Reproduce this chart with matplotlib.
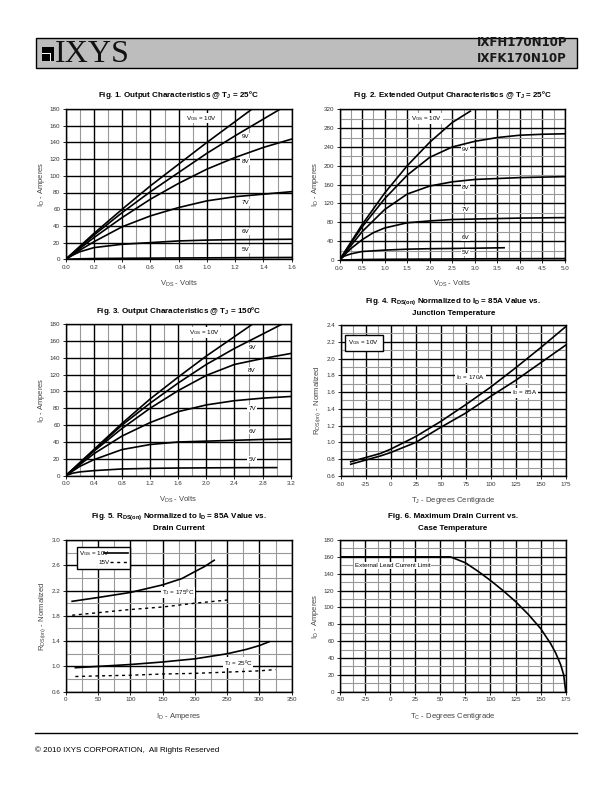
import matplotlib
matplotlib.use('Agg')
import matplotlib.pyplot as plt
from matplotlib import font_manager
from matplotlib.patches import Rectangle
from matplotlib.ticker import MultipleLocator, FixedLocator, FormatStrFormatter

names = {f.name for f in font_manager.fontManager.ttflist}
narrow = 'Liberation Sans Narrow' if 'Liberation Sans Narrow' in names else 'Liberation Sans'
tsize = 6.6 if narrow == 'Liberation Sans Narrow' else 5.8
plt.rcParams['font.family'] = ['Liberation Sans', 'DejaVu Sans']

# ---- data ----
# Fig 1: output characteristics @ 25C
f1_10v_x = [0, 0.2, 0.4, 0.6, 0.8, 1.0, 1.2, 1.32]
f1_10v_y = [0, 31, 60, 88, 114, 140, 165, 180]
f1_9v_x = [0, 0.2, 0.4, 0.6, 0.8, 1.0, 1.2, 1.4, 1.52]
f1_9v_y = [0, 29, 56, 81, 104, 127, 148, 168, 180]
f1_8v_x = [0, 0.2, 0.4, 0.6, 0.8, 1.0, 1.2, 1.4, 1.6]
f1_8v_y = [0, 26, 50, 72, 91, 108, 122, 134, 144]
f1_7v_x = [0, 0.1, 0.2, 0.4, 0.6, 0.8, 1.0, 1.2, 1.4, 1.6]
f1_7v_y = [0, 11, 21, 39, 52, 62, 70, 75, 78, 81]
f1_6v_x = [0, 0.05, 0.1, 0.2, 0.3, 0.4, 0.6, 0.8, 1.0, 1.2, 1.6]
f1_6v_y = [0, 5, 9, 14, 16, 18, 20, 22, 23, 23.5, 24]
f1_5v_x = [0, 0.1, 0.2, 0.4, 0.8, 1.2, 1.6]
f1_5v_y = [0, 0.6, 0.9, 1.2, 1.6, 1.9, 2.2]

# Fig 2: extended output characteristics @ 25C
f2_10v_x = [0, 0.5, 1.0, 1.5, 2.0, 2.5, 2.9]
f2_10v_y = [0, 75, 142, 200, 250, 292, 316]
f2_x = [0, 0.5, 1.0, 1.5, 2.0, 2.5, 3.0, 3.5, 4.0, 4.5, 5.0]
f2_9v_y = [0, 70, 130, 180, 218, 240, 252, 260, 265, 267, 268]
f2_8v_y = [0, 60, 107, 140, 157, 166, 171, 173, 175, 176, 177]
f2_7v_x = [0, 0.25, 0.5, 0.75, 1.0, 1.5, 2.0, 2.5, 3.0, 4.0, 5.0]
f2_7v_y = [0, 24, 43, 58, 68, 79, 83, 86, 87, 89, 90]
f2_6v_x = [0, 0.1, 0.25, 0.5, 1.0, 1.5, 2.0, 3.0, 3.65]
f2_6v_y = [0, 8, 13, 18, 21, 23, 24, 25, 26]
f2_5v_x = [0, 0.5, 1.0, 2.0, 3.0, 4.0, 5.0]
f2_5v_y = [0, 1, 1.5, 2, 2.5, 2.8, 3]

# Fig 3: output characteristics @ 150C
f3_10v_x = [0, 0.4, 0.8, 1.2, 1.6, 2.0, 2.4, 2.66]
f3_10v_y = [0, 31, 62, 91, 117, 142, 165, 180]
f3_9v_x = [0, 0.4, 0.8, 1.2, 1.6, 2.0, 2.4, 2.8, 3.08]
f3_9v_y = [0, 30, 60, 86, 110, 132, 151, 168, 180]
f3_x = [0, 0.4, 0.8, 1.2, 1.6, 2.0, 2.4, 2.8, 3.2]
f3_8v_y = [0, 29, 56, 80, 101, 119, 132, 139, 145]
f3_7v_y = [0, 26, 47, 63, 76, 84, 89, 92, 94]
f3_6v_x = [0, 0.2, 0.4, 0.8, 1.2, 1.6, 2.0, 2.4, 2.8, 3.2]
f3_6v_y = [0, 11, 19, 31, 37, 40, 41, 42, 43, 43.5]
f3_5v_x = [0, 0.1, 0.2, 0.4, 0.8, 1.2, 1.6, 2.0, 2.4, 3.0]
f3_5v_y = [0, 3, 4.5, 6, 8, 8.7, 9.1, 9.3, 9.5, 9.6]

# Fig 4: RDS(on) vs junction temperature
f4_t = [-40, -25, -10, 0, 25, 50, 75, 100, 125, 150, 175]
f4_170a = [0.77, 0.82, 0.87, 0.92, 1.07, 1.25, 1.45, 1.66, 1.89, 2.13, 2.38]
f4_85a = [0.74, 0.79, 0.84, 0.88, 1.00, 1.18, 1.35, 1.55, 1.74, 1.95, 2.16]

# Fig 5: RDS(on) vs drain current
f5_yticks = [0.6, 1.0, 1.4, 1.8, 2.2, 2.6, 3.0]
f5_175_10_x = [10, 50, 100, 150, 180, 200, 215, 230]
f5_175_10_y = [2.03, 2.09, 2.17, 2.29, 2.39, 2.50, 2.58, 2.68]
f5_175_15_x = [10, 50, 100, 150, 200, 250]
f5_175_15_y = [1.81, 1.85, 1.90, 1.94, 2.00, 2.05]
f5_25_10_x = [15, 50, 100, 150, 200, 250, 280, 300, 315]
f5_25_10_y = [0.98, 1.00, 1.03, 1.07, 1.12, 1.20, 1.27, 1.33, 1.39]
f5_25_15_x = [15, 50, 100, 150, 200, 250, 300, 325]
f5_25_15_y = [0.84, 0.85, 0.86, 0.88, 0.89, 0.91, 0.93, 0.95]

# Fig 6: max drain current vs case temperature
f6_t = [-50, 60, 75, 87.5, 100, 112.5, 125, 137.5, 150, 160, 165, 170, 173, 175]
f6_i = [160, 160, 153, 143, 132, 120, 107, 92, 75, 57, 46, 32, 20, 0]

W, H = 612, 792
fig = plt.figure(figsize=(6.12, 7.92), dpi=100)


def px_axes(l, t, r, b):
    return fig.add_axes([l / W, 1 - b / H, (r - l) / W, (b - t) / H])


def setup(ax, xlim, ylim, xmaj, xmin, ymaj, ymin, xfmt, yfmt):
    ax.set_xlim(*xlim)
    ax.set_ylim(*ylim)
    ax.xaxis.set_major_locator(MultipleLocator(xmaj))
    if isinstance(ymaj, list):
        ax.yaxis.set_major_locator(FixedLocator(ymaj))
    else:
        ax.yaxis.set_major_locator(MultipleLocator(ymaj))
    if xmin:
        ax.xaxis.set_minor_locator(MultipleLocator(xmin))
    if ymin:
        ax.yaxis.set_minor_locator(MultipleLocator(ymin))
    ax.xaxis.set_major_formatter(FormatStrFormatter(xfmt))
    ax.yaxis.set_major_formatter(FormatStrFormatter(yfmt))
    ax.grid(which='major', color='black', lw=1.0)
    ax.grid(which='minor', color='#999999', lw=0.8)
    ax.set_axisbelow(True)
    ax.tick_params(which='major', direction='out', length=2, width=0.6,
                   labelsize=4.5, labelcolor='#333333', pad=2)
    ax.tick_params(which='minor', length=0)
    for s in ax.spines.values():
        s.set_linewidth(1.0)


def title(ax, lines, y_px):
    pos = ax.get_position()
    cx = pos.x0 + pos.width / 2
    for s, y in zip(lines, y_px):
        fig.text(cx, 1 - y / H, s, ha='center', va='center', fontsize=tsize,
                 fontweight='bold', family=[narrow, 'DejaVu Sans'])


def labels(ax, xl, yl):
    ax.set_xlabel(xl, fontsize=5.5, color='#444444', labelpad=6)
    ax.set_ylabel(yl, fontsize=5.5, color='#444444', labelpad=2)


def tag(ax, x, y, s, **kw):
    ax.text(x, y, s, fontsize=4.5, ha='center', va='center', zorder=5,
            bbox=dict(fc='white', ec='none', pad=0.6), **kw)


lw = 1.2
dot = (0, (2.2, 2.6))
sub = lambda s: '$_\\mathregular{' + s + '}$'
vgs = 'V' + sub('GS') + ' = 10V'

# Fig 1
ax1 = px_axes(65.7, 109, 291.7, 259.3)
setup(ax1, (0, 1.6), (0, 180), 0.2, 0.1, 20, None, '%.1f', '%d')
for x, y in [(f1_10v_x, f1_10v_y), (f1_9v_x, f1_9v_y), (f1_8v_x, f1_8v_y),
             (f1_7v_x, f1_7v_y), (f1_6v_x, f1_6v_y), (f1_5v_x, f1_5v_y)]:
    ax1.plot(x, y, color='black', lw=lw, zorder=3)
tag(ax1, 0.96, 169, vgs)
for s, y in [('9V', 147), ('8V', 117), ('7V', 68), ('6V', 33), ('5V', 12)]:
    tag(ax1, 1.27, y, s)
labels(ax1, 'V' + sub('DS') + ' - Volts', 'I' + sub('D') + ' - Amperes')
title(ax1, ['Fig. 1. Output Characteristics @ T' + sub('J') + ' = 25ºC'], [95])

# Fig 2
ax2 = px_axes(339.5, 109.3, 565, 260)
setup(ax2, (0, 5), (0, 320), 0.5, 0.25, 40, 20, '%.1f', '%d')
ax2.plot(f2_10v_x, f2_10v_y, color='black', lw=lw, zorder=3)
ax2.plot(f2_x, f2_9v_y, color='black', lw=lw, zorder=3)
ax2.plot(f2_x, f2_8v_y, color='black', lw=lw, zorder=3)
ax2.plot(f2_7v_x, f2_7v_y, color='black', lw=lw, zorder=3)
ax2.plot(f2_6v_x, f2_6v_y, color='black', lw=lw, zorder=3)
ax2.plot(f2_5v_x, f2_5v_y, color='black', lw=lw, zorder=3)
tag(ax2, 1.93, 301, vgs)
for s, y in [('9V', 234), ('8V', 154), ('7V', 108), ('6V', 47), ('5V', 16)]:
    tag(ax2, 2.8, y, s)
labels(ax2, 'V' + sub('DS') + ' - Volts', 'I' + sub('D') + ' - Amperes')
title(ax2, ['Fig. 2. Extended Output Characteristics @ T' + sub('J') + ' = 25ºC'], [95])

# Fig 3
ax3 = px_axes(65.7, 324, 290.7, 475.7)
setup(ax3, (0, 3.2), (0, 180), 0.4, 0.2, 20, None, '%.1f', '%d')
ax3.plot(f3_10v_x, f3_10v_y, color='black', lw=lw, zorder=3)
ax3.plot(f3_9v_x, f3_9v_y, color='black', lw=lw, zorder=3)
ax3.plot(f3_x, f3_8v_y, color='black', lw=lw, zorder=3)
ax3.plot(f3_x, f3_7v_y, color='black', lw=lw, zorder=3)
ax3.plot(f3_6v_x, f3_6v_y, color='black', lw=lw, zorder=3)
ax3.plot(f3_5v_x, f3_5v_y, color='black', lw=lw, zorder=3)
tag(ax3, 1.98, 170, vgs)
for s, y in [('9V', 152), ('8V', 125), ('7V', 80), ('6V', 53), ('5V', 19)]:
    tag(ax3, 2.65, y, s)
labels(ax3, 'V' + sub('DS') + ' - Volts', 'I' + sub('D') + ' - Amperes')
title(ax3, ['Fig. 3. Output Characteristics @ T' + sub('J') + ' = 150ºC'], [311])

# Fig 4
ax4 = px_axes(340.7, 325, 565.7, 476)
setup(ax4, (-50, 175), (0.6, 2.4), 25, 12.5, 0.2, 0.1, '%d', '%.1f')
ax4.plot(f4_t, f4_170a, color='black', lw=lw, zorder=3)
ax4.plot(f4_t, f4_85a, color='black', lw=lw, zorder=3)
tag(ax4, 80, 1.77, 'I' + sub('D') + ' = 170A')
tag(ax4, 134, 1.59, 'I' + sub('D') + ' = 85A')
ax4.text(-27, 2.19, vgs, fontsize=4.5, ha='center', va='center', zorder=5,
         bbox=dict(fc='white', ec='black', lw=1.0, pad=2.5))
labels(ax4, 'T' + sub('J') + ' - Degrees Centigrade', 'R' + sub('DS(on)') + ' - Normalized')
title(ax4, ['Fig. 4. R' + sub('DS(on)') + ' Normalized to I' + sub('D') + ' = 85A Value vs.',
            'Junction Temperature'], [302, 314])

# Fig 5
ax5 = px_axes(65.7, 540, 291.7, 691.7)
setup(ax5, (0, 350), (0.6, 3.0), 50, 25, f5_yticks, 0.2, '%d', '%.1f')
ax5.plot(f5_175_10_x, f5_175_10_y, color='black', lw=lw, zorder=3)
ax5.plot(f5_175_15_x, f5_175_15_y, color='black', lw=1.0, ls=dot, zorder=3)
ax5.plot(f5_25_10_x, f5_25_10_y, color='black', lw=lw, zorder=3)
ax5.plot(f5_25_15_x, f5_25_15_y, color='black', lw=1.0, ls=dot, zorder=3)
tag(ax5, 174, 2.17, 'T' + sub('J') + ' = 175ºC')
tag(ax5, 267, 1.06, 'T' + sub('J') + ' = 25ºC')
ax5.add_patch(Rectangle((18, 2.54), 82, 0.35, fc='white', ec='black', lw=1.0, zorder=5))
ax5.text(20, 2.79, vgs, fontsize=4.5, ha='left', va='center', zorder=6)
ax5.plot([60, 97], [2.79, 2.79], color='black', lw=lw, zorder=6)
ax5.text(50, 2.65, '15V', fontsize=4.5, ha='left', va='center', zorder=6)
ax5.plot([68, 97], [2.65, 2.65], color='black', lw=1.0, ls=dot, zorder=6)
labels(ax5, 'I' + sub('D') + ' - Amperes', 'R' + sub('DS(on)') + ' - Normalized')
title(ax5, ['Fig. 5. R' + sub('DS(on)') + ' Normalized to I' + sub('D') + ' = 85A Value vs.',
            'Drain Current'], [517, 529])

# Fig 6
ax6 = px_axes(340, 540, 565.7, 691.7)
setup(ax6, (-50, 175), (0, 180), 25, 12.5, 20, 10, '%d', '%d')
ax6.plot(f6_t, f6_i, color='black', lw=lw, zorder=3)
tag(ax6, 2.5, 150, 'External Lead Current Limit')
labels(ax6, 'T' + sub('C') + ' - Degrees Centigrade', 'I' + sub('D') + ' - Amperes')
title(ax6, ['Fig. 6. Maximum Drain Current vs.', 'Case Temperature'], [517, 529])

# page header / footer drawn in pixel coordinates
pg = fig.add_axes([0, 0, 1, 1], zorder=-1)
pg.set_xlim(0, W)
pg.set_ylim(H, 0)
pg.axis('off')
pg.add_patch(Rectangle((36, 38), 541, 30, fc='#bdbdbd', ec='black', lw=1.0))
# logo block
pg.add_patch(Rectangle((42, 47), 12, 14, fc='black', ec='none'))
pg.add_patch(Rectangle((42, 53), 9, 1.2, fc='white', ec='none'))
pg.add_patch(Rectangle((50, 53), 1.2, 8, fc='white', ec='none'))
pg.text(55, 62, 'IXYS', family='Liberation Serif', fontsize=23, va='baseline', ha='left',
        color='#111111')
pg.text(567, 43, 'IXFH170N10P', family='DejaVu Sans', fontsize=8.5, fontweight='bold',
        ha='right', va='center', color='#1a1a1a')
pg.text(567, 58, 'IXFK170N10P', family='DejaVu Sans', fontsize=8.5, fontweight='bold',
        ha='right', va='center', color='#1a1a1a')
pg.plot([35, 577], [733, 733], color='black', lw=1.0)
pg.text(35, 750, '© 2010 IXYS CORPORATION,  All Rights Reserved', fontsize=5.8,
        ha='left', va='center')

fig.savefig('out.png', dpi=100)
